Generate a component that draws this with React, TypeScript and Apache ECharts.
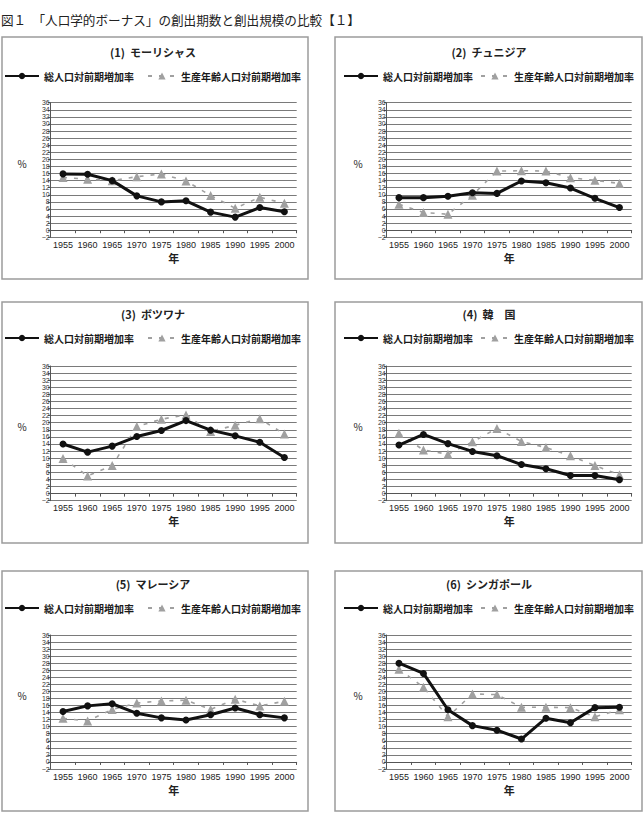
import React, { useEffect, useRef } from 'react';
import * as echarts from 'echarts';

// Survey years on the category axis
const years = ['1955', '1960', '1965', '1970', '1975', '1980', '1985', '1990', '1995', '2000'];

// Value axis range (%)
const yMin = -2;
const yMax = 36;
const yStep = 2;

const chartTitle = '図１　「人口学的ボーナス」の創出期数と創出規模の比較【１】';
const totalName = '総人口対前期増加率';
const workingName = '生産年齢人口対前期増加率';
const xAxisName = '年';
const yAxisName = '%';

const panelTitles = [
  '(1)  モーリシャス',
  '(2)  チュニジア',
  '(3)  ボツワナ',
  '(4)  韓　国',
  '(5)  マレーシア',
  '(6)  シンガポール',
];

// Growth over the previous period, total population (%)
const mauritiusTotal = [15.9, 15.8, 14.0, 9.7, 8.0, 8.3, 5.1, 3.7, 6.4, 5.2];
const tunisiaTotal = [9.2, 9.2, 9.6, 10.6, 10.4, 13.9, 13.4, 11.9, 9.0, 6.4];
const botswanaTotal = [14.0, 11.7, 13.4, 16.1, 17.8, 20.6, 17.9, 16.3, 14.5, 10.2];
const koreaTotal = [13.7, 16.7, 14.1, 11.9, 10.7, 8.2, 7.0, 5.1, 5.1, 3.9];
const malaysiaTotal = [14.3, 15.9, 16.5, 13.8, 12.5, 11.9, 13.4, 15.3, 13.4, 12.5];
const singaporeTotal = [28.0, 25.1, 14.8, 10.3, 9.0, 6.5, 12.4, 11.1, 15.4, 15.5];

// Growth over the previous period, working-age population (%)
const mauritiusWorking = [14.9, 14.4, 14.0, 15.1, 15.9, 13.9, 9.8, 6.2, 9.3, 7.6];
const tunisiaWorking = [7.3, 5.0, 4.5, 9.9, 16.7, 16.8, 16.7, 14.8, 14.1, 13.2];
const botswanaWorking = [9.9, 5.0, 7.9, 18.9, 21.0, 22.2, 17.5, 19.3, 21.1, 16.8];
const koreaWorking = [17.0, 12.3, 11.1, 14.6, 18.4, 14.7, 13.0, 10.7, 7.9, 5.3];
const malaysiaWorking = [12.4, 11.6, 14.9, 16.7, 17.3, 17.5, 14.9, 17.8, 15.9, 17.2];
const singaporeWorking = [26.3, 21.2, 12.8, 19.3, 19.1, 15.5, 15.5, 15.4, 12.8, 14.8];

const panelTotals = [mauritiusTotal, tunisiaTotal, botswanaTotal, koreaTotal, malaysiaTotal, singaporeTotal];
const panelWorking = [mauritiusWorking, tunisiaWorking, botswanaWorking, koreaWorking, malaysiaWorking, singaporeWorking];

// Panel layout (px)
const columns = [
  { box: 2, boxW: 306, plot: 50.7, plotW: 246, title: 153, legend1: 4, legend2: 147 },
  { box: 335, boxW: 307, plot: 386.7, plotW: 245, title: 489, legend1: 343, legend2: 480 },
];
const rows = [
  { box: 37, boxH: 242, title: 53, legend: 77, plot: 102.7, plotH: 134.6 },
  { box: 302, boxH: 241, title: 315, legend: 339, plot: 366, plotH: 134.7 },
  { box: 571, boxH: 240, title: 585, legend: 609, plot: 635, plotH: 134 },
];

const jpFont = "'Noto Sans CJK JP', 'Noto Sans', sans-serif";
const numFont = "'Liberation Sans', 'Roboto', sans-serif";
const totalColor = '#111111';
const workingColor = '#a0a0a0';

function buildOption() {
  const titles: any[] = [
    {
      text: chartTitle,
      left: 1,
      top: 13,
      padding: 0,
      textStyle: { fontFamily: jpFont, fontSize: 12.6, fontWeight: 'normal', color: '#222' },
    },
  ];
  const grids: any[] = [];
  const xAxes: any[] = [];
  const yAxes: any[] = [];
  const series: any[] = [];
  const legends: any[] = [];
  const graphics: any[] = [];

  panelTitles.forEach((name, i) => {
    const col = columns[i % 2];
    const row = rows[Math.floor(i / 2)];

    graphics.push({
      type: 'rect',
      shape: { x: col.box, y: row.box, width: col.boxW, height: row.boxH },
      style: { fill: 'none', stroke: '#9c9c9c', lineWidth: 1.5 },
      silent: true,
      z: -1,
    });

    // unit label beside the value axis
    graphics.push({
      type: 'text',
      x: col.plot - 24,
      y: row.plot + 60.5,
      silent: true,
      style: {
        text: yAxisName,
        fontFamily: jpFont,
        fontSize: 10,
        fill: '#222',
        align: 'right',
        verticalAlign: 'middle',
      },
    });

    titles.push({
      text: name,
      left: col.title,
      top: row.title - 7,
      padding: 0,
      textAlign: 'center',
      textStyle: { fontFamily: jpFont, fontSize: 11, fontWeight: 'bold', color: '#222' },
    });

    const legendText = { fontFamily: jpFont, fontSize: 10, color: '#1a1a1a', fontWeight: 'bold' };
    legends.push({
      left: col.legend1,
      top: row.legend - 6,
      padding: 0,
      itemWidth: 34,
      itemHeight: 8,
      selectedMode: false,
      data: [totalName],
      textStyle: legendText,
    });
    legends.push({
      left: col.legend2,
      top: row.legend - 6,
      padding: 0,
      itemWidth: 28,
      itemHeight: 9,
      selectedMode: false,
      data: [workingName],
      textStyle: legendText,
    });

    grids.push({
      left: col.plot,
      top: row.plot,
      width: col.plotW,
      height: row.plotH,
      containLabel: false,
    });

    xAxes.push({
      gridIndex: i,
      type: 'category',
      data: years,
      boundaryGap: true,
      name: xAxisName,
      nameLocation: 'middle',
      nameGap: 15,
      nameTextStyle: { fontFamily: jpFont, fontSize: 11, fontWeight: 'bold', color: '#222' },
      axisLine: { show: true, lineStyle: { color: '#555', width: 1 } },
      axisTick: { show: true, length: 3, lineStyle: { color: '#555' } },
      axisLabel: { interval: 0, margin: 3, fontFamily: numFont, fontSize: 9, color: '#222' },
      splitLine: { show: false },
    });

    yAxes.push({
      gridIndex: i,
      type: 'value',
      min: yMin,
      max: yMax,
      interval: yStep,
      axisLine: { show: true, lineStyle: { color: '#555', width: 1 } },
      axisTick: { show: true, length: 3, lineStyle: { color: '#555' } },
      axisLabel: {
        margin: 1,
        fontFamily: numFont,
        fontSize: 7,
        lineHeight: 7,
        color: '#333',
        showMinLabel: true,
        showMaxLabel: true,
        hideOverlap: false,
        formatter: (v: number) => (v < 0 ? '\u2212' + Math.abs(v) : String(v)),
      },
      splitLine: { show: true, lineStyle: { color: '#7a7a7a', width: 1 } },
    });

    series.push({
      type: 'line',
      name: totalName,
      xAxisIndex: i,
      yAxisIndex: i,
      data: panelTotals[i],
      symbol: 'circle',
      symbolSize: 7,
      lineStyle: { color: totalColor, width: 3 },
      itemStyle: { color: totalColor },
      z: 3,
    });
    series.push({
      type: 'line',
      name: workingName,
      xAxisIndex: i,
      yAxisIndex: i,
      data: panelWorking[i],
      symbol: 'triangle',
      symbolSize: 9,
      lineStyle: { color: workingColor, width: 1.6, type: [4, 7] },
      itemStyle: { color: workingColor },
      z: 2,
    });
  });

  return {
    animation: false,
    backgroundColor: '#ffffff',
    title: titles,
    legend: legends,
    grid: grids,
    xAxis: xAxes,
    yAxis: yAxes,
    series,
    graphic: graphics,
  };
}

export default function App() {
  const ref = useRef<HTMLDivElement>(null);

  useEffect(() => {
    if (!ref.current) return;
    const chart = echarts.init(ref.current, undefined, { renderer: 'svg' });
    chart.setOption(buildOption() as any);
    return () => chart.dispose();
  }, []);

  return (
    <div
      ref={ref}
      style={{ position: 'absolute', left: 0, top: 0, width: 643, height: 825, background: '#fff' }}
    />
  );
}
